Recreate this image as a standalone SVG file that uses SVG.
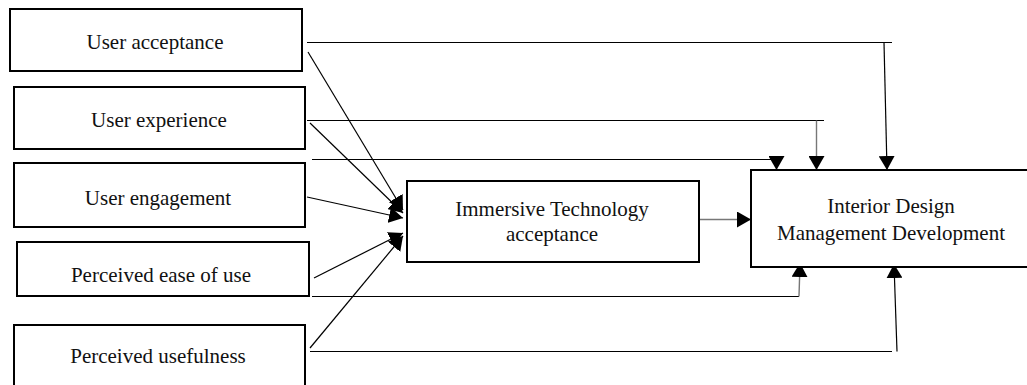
<svg xmlns="http://www.w3.org/2000/svg" width="1027" height="385" viewBox="0 0 1027 385">
<style>
.box{fill:#fff;stroke:#000;stroke-width:2}
.t{font-family:"Liberation Serif","Times New Roman",serif;font-size:21px;fill:#111;text-anchor:middle}
.c{fill:none;stroke:#000;stroke-width:1.2}
.g{fill:none;stroke:#777;stroke-width:1.4}
</style>
<defs>
<marker id="ah" viewBox="0 0 14 16" refX="14" refY="8" markerWidth="14" markerHeight="16" markerUnits="userSpaceOnUse" orient="auto">
<path d="M0,0 L14,8 L0,16 Z" fill="#000"/>
</marker>
</defs>
<rect width="1027" height="385" fill="#fff"/>
<g id="connectors">
<path class="c" d="M307,42.5 H892"/>
<path class="c" d="M884,42.5 L887,170" marker-end="url(#ah)"/>
<path class="c" d="M307,120.5 H824"/>
<path class="g" d="M816.5,120.5 V170" marker-end="url(#ah)"/>
<path class="c" d="M312,159.5 H776.5 V170" marker-end="url(#ah)"/>
<path class="c" d="M312,296.5 H799"/>
<path class="g" d="M799,296.5 L800,263" marker-end="url(#ah)"/>
<path class="c" d="M310,351.5 H892"/>
<path class="c" d="M897,351.5 L894,264" marker-end="url(#ah)"/>
<path class="g" d="M699,219.5 H751" marker-end="url(#ah)"/>
<path class="c" d="M308,52 L403,210" marker-end="url(#ah)"/>
<path class="c" d="M310,123 L403,213" marker-end="url(#ah)"/>
<path class="c" d="M307,197 L403,218" marker-end="url(#ah)"/>
<path class="c" d="M314,278 L403,233" marker-end="url(#ah)"/>
<path class="c" d="M310,348 L403,236" marker-end="url(#ah)"/>
</g>
<g id="user-acceptance"><rect class="box" x="10" y="9" width="292" height="62"/><text class="t" x="155" y="49">User acceptance</text></g>
<g id="user-experience"><rect class="box" x="14" y="87" width="291" height="62"/><text class="t" x="159" y="127">User experience</text></g>
<g id="user-engagement"><rect class="box" x="14" y="163" width="291" height="64"/><text class="t" x="158" y="205">User engagement</text></g>
<g id="perceived-ease"><rect class="box" x="17" y="242" width="292" height="54"/><text class="t" x="161" y="282">Perceived ease of use</text></g>
<g id="perceived-usefulness"><rect class="box" x="14" y="325" width="291" height="70"/><text class="t" x="158" y="363">Perceived usefulness</text></g>
<g id="immersive"><rect class="box" x="407" y="181" width="292" height="81"/><text class="t" x="552" y="216">Immersive Technology</text><text class="t" x="552" y="241">acceptance</text></g>
<g id="interior"><rect class="box" x="751" y="170" width="290" height="97"/><text class="t" x="891" y="213">Interior Design</text><text class="t" x="891" y="240">Management Development</text></g>
</svg>
